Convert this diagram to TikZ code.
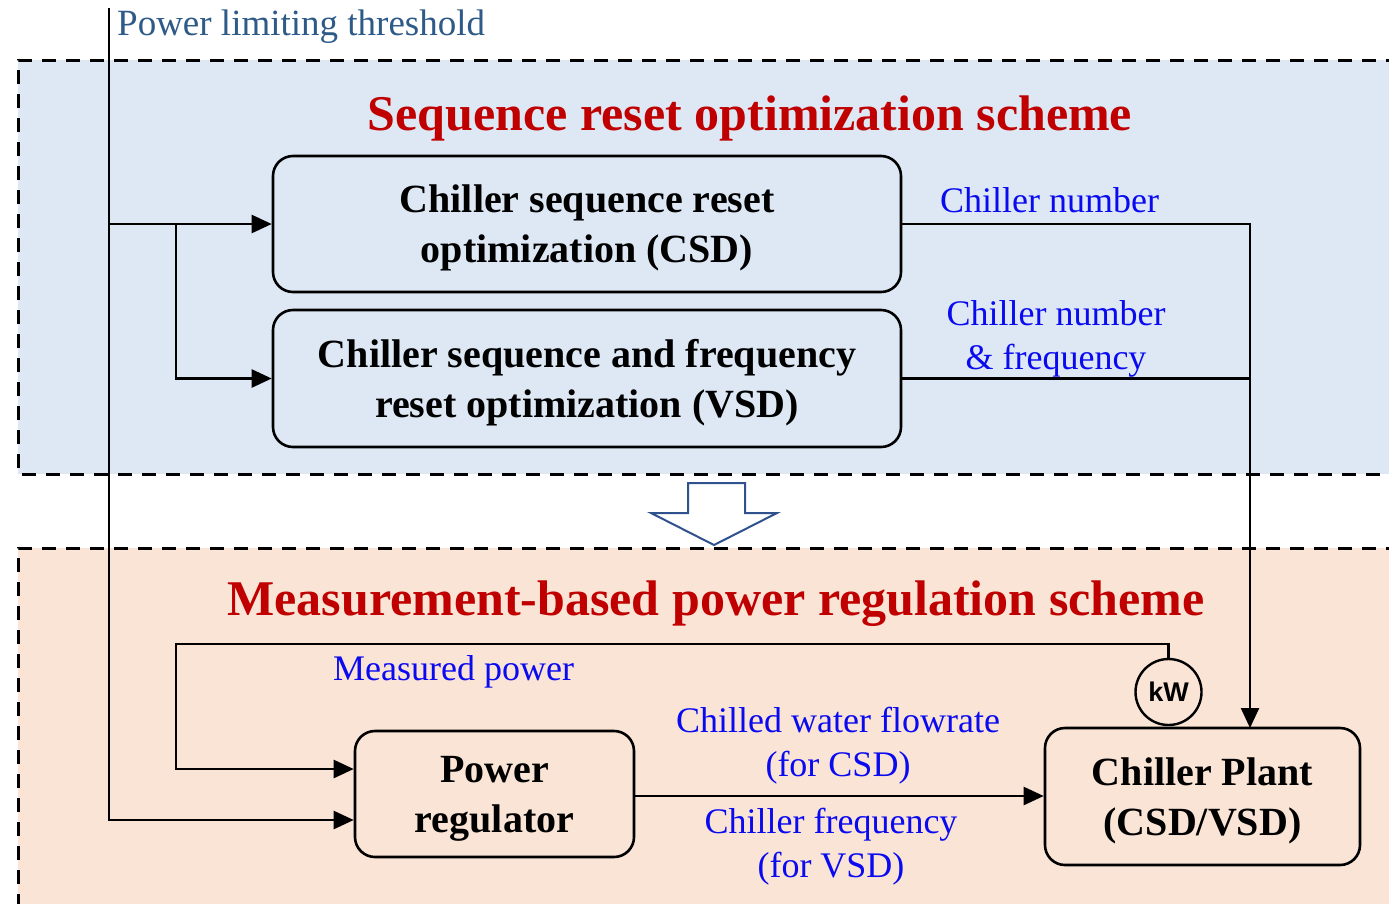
\documentclass[tikz,border=0pt]{standalone}
\usepackage{fontspec}
\setmainfont{Liberation Serif}
\newfontfamily\kwfont{Liberation Sans}
\usetikzlibrary{arrows.meta}

\definecolor{zoneblue}{HTML}{DDE8F4}
\definecolor{zonepeach}{HTML}{FAE4D6}
\definecolor{titlered}{HTML}{C00000}
\definecolor{labelblue}{HTML}{0A0AF0}
\definecolor{inputblue}{HTML}{2E5A88}
\definecolor{bigarrow}{HTML}{2F528F}

\begin{document}
\begin{tikzpicture}[x=1pt,y=-1pt,
  conn/.style={line width=2.4pt, -{Triangle[length=20pt,width=18pt]}},
  wire/.style={line width=2.4pt},
  zone/.style={line width=3pt, dash pattern=on 14pt off 10pt},
  block/.style={draw, line width=2.6pt, rounded corners=20pt, align=center,
    font=\fontsize{40}{50}\selectfont\bfseries, inner sep=0pt, text depth=-2pt},
  sig/.style={text=labelblue, align=center, font=\fontsize{36}{44}\selectfont, inner sep=0pt},
  heading/.style={text=titlered, font=\fontsize{50}{56}\selectfont\bfseries, inner sep=0pt}
]
\useasboundingbox (0,0) rectangle (1389,903);
\clip (0,0) rectangle (1389,903);

% scheme zones
\fill[zoneblue] (18,60) rectangle (1400,474);
\draw[zone] (1400,60) -- (18,60) -- (18,474) -- (1400,474);
\fill[zonepeach] (18,548) rectangle (1400,910);
\draw[zone] (1400,548) -- (18,548) -- (18,910);

% headings
\node[heading, anchor=base] (seqtitle) at (750,130) {Sequence reset optimization scheme};
\node[heading, anchor=base] (regtitle) at (716,615) {Measurement-based power regulation scheme};

% blocks
\node[block, fill=zoneblue, minimum width=628pt, minimum height=136pt] (csd) at (587,224)
  {Chiller sequence reset\\optimization (CSD)};
\node[block, fill=zoneblue, minimum width=628pt, minimum height=137pt] (vsd) at (587,378.5)
  {Chiller sequence and frequency\\reset optimization (VSD)};
\node[block, fill=zonepeach, minimum width=279pt, minimum height=126pt] (reg) at (494.5,794)
  {Power\\regulator};
\node[block, fill=zonepeach, minimum width=315pt, minimum height=137pt] (plant) at (1202.5,796.5)
  {Chiller Plant\\(CSD/VSD)};
\node[circle, draw, line width=2.4pt, minimum size=66pt, inner sep=0pt, fill=zonepeach,
  font=\kwfont\bfseries\fontsize{27}{27}\selectfont] (kw) at (1168.5,692) {kW};

% transition arrow between the schemes
\draw[bigarrow, line width=2pt, fill=white, line join=miter]
  (688,483) -- (745,483) -- (745,513) -- (777,513) -- (714,545) -- (651,513) -- (688,513) -- cycle;

% input threshold and its distribution
\coordinate (src) at (109,8);
\node[text=inputblue, font=\fontsize{37}{40}\selectfont, anchor=base west, inner sep=0pt]
  (thr) at (117,35) {Power limiting threshold};
\coordinate (tap1) at (src |- csd.west);
\coordinate (tap2) at (176,224);
\draw[conn] (src) |- ([yshift=-26pt]reg.west);
\draw[conn] (tap1) -- (csd.west);
\draw[conn] (tap2) |- (vsd.west);

% optimisation outputs to the plant
\coordinate (plantin) at (1250,728);
\draw[conn] (csd.east) -| (plantin);
\draw[wire] (vsd.east) -- (vsd.east -| plantin);
\node[sig, anchor=base west] (lnum) at (940,212) {Chiller number};
\node[sig] (lnumf) at (1056,339) {Chiller number\\\& frequency};

% measured power feedback
\coordinate (fbcorner) at (176,644);
\draw[conn] (kw.north) -- (kw.north |- fbcorner) -- (fbcorner) |- ([yshift=25pt]reg.west);
\node[sig, anchor=base west] (lmeas) at (333,680) {Measured power};

% regulator commands
\draw[conn] ([yshift=-2pt]reg.east) -- ([yshift=-2pt]reg.east -| plant.west);
\node[sig] (lflow) at (838,746) {Chilled water flowrate\\(for CSD)};
\node[sig] (lfreq) at (831,847) {Chiller frequency\\(for VSD)};
\end{tikzpicture}
\end{document}
